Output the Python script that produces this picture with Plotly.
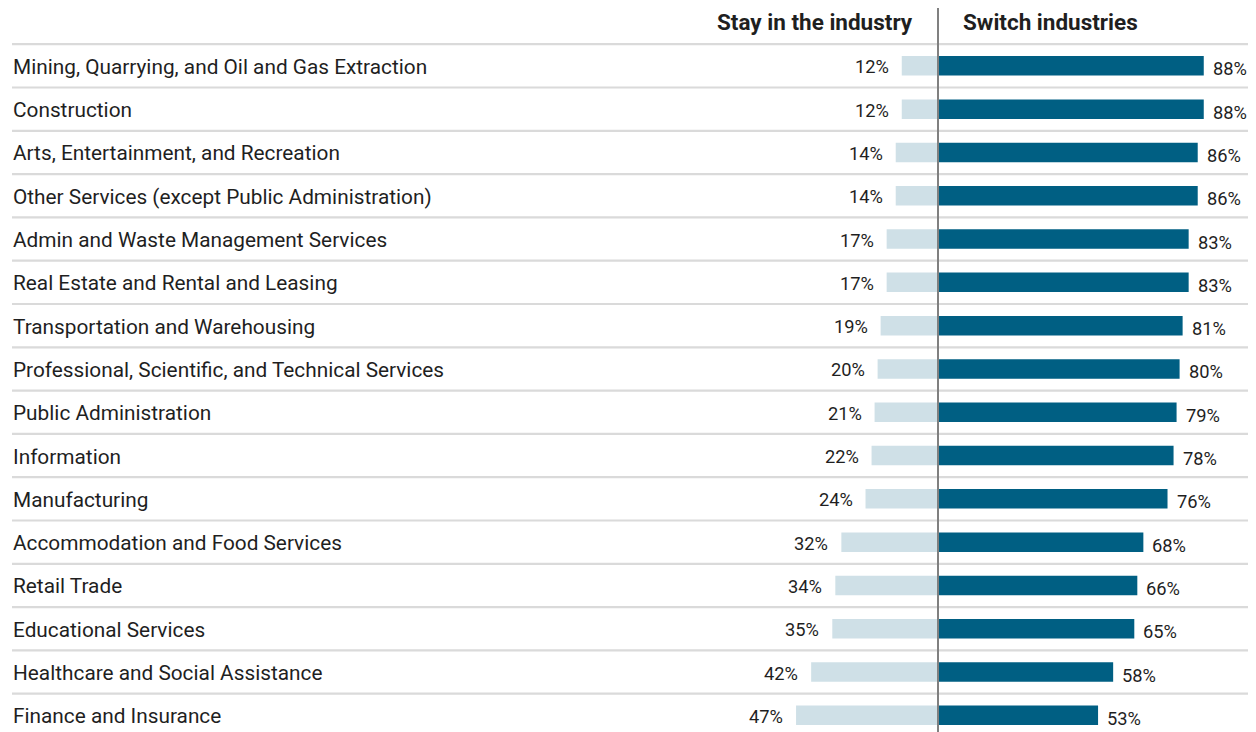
import plotly.graph_objects as go

categories = [
    "Mining, Quarrying, and Oil and Gas Extraction",
    "Construction",
    "Arts, Entertainment, and Recreation",
    "Other Services (except Public Administration)",
    "Admin and Waste Management Services",
    "Real Estate and Rental and Leasing",
    "Transportation and Warehousing",
    "Professional, Scientific, and Technical Services",
    "Public Administration",
    "Information",
    "Manufacturing",
    "Accommodation and Food Services",
    "Retail Trade",
    "Educational Services",
    "Healthcare and Social Assistance",
    "Finance and Insurance",
]
stay = [12, 12, 14, 14, 17, 17, 19, 20, 21, 22, 24, 32, 34, 35, 42, 47]
switch = [88, 88, 86, 86, 83, 83, 81, 80, 79, 78, 76, 68, 66, 65, 58, 53]
headers = ["Stay in the industry", "Switch industries"]

# page has an 8px body margin; figure coords = page coords - 8
OFF = 8
W, H = 1256 - OFF, 732 - OFF
CENTER_PX = 938 - OFF
PX_PER_PCT = 3.02
ROW_PX = 43.3
FIRST_SEP_PX = 44.2 - OFF
LABEL_X = 12 - OFF

xmin = -CENTER_PX / PX_PER_PCT
xmax = (W - CENTER_PX) / PX_PER_PCT
ytop = -(FIRST_SEP_PX / ROW_PX) - 0.5
ybot = ytop + H / ROW_PX

rows = list(range(len(categories)))

LIGHT = "#cfe0e7"
DARK = "#005f83"
TEXT = "#1f1f1f"
FONT = "Roboto"

fig = go.Figure()
fig.add_trace(go.Bar(
    y=rows, x=[-v for v in stay], orientation="h",
    marker=dict(color=LIGHT, line=dict(width=0)), width=0.45,
    hoverinfo="skip", showlegend=False,
))
fig.add_trace(go.Bar(
    y=rows, x=switch, orientation="h",
    marker=dict(color=DARK, line=dict(width=0)), width=0.45,
    hoverinfo="skip", showlegend=False,
))

annotations = []
for i, (c, s, w) in enumerate(zip(categories, stay, switch)):
    annotations.append(dict(
        x=LABEL_X / W, xref="paper", y=i, yref="y", text=c, showarrow=False,
        xanchor="left", yanchor="middle", xshift=-1, yshift=-1,
        font=dict(family=FONT, size=20.8, color=TEXT),
    ))
    annotations.append(dict(
        x=-s, xref="x", y=i, yref="y", text=f"{s}%", showarrow=False,
        xanchor="right", yanchor="middle", xshift=-11, yshift=-1,
        font=dict(family=FONT, size=18.3, color=TEXT),
    ))
    annotations.append(dict(
        x=w, xref="x", y=i, yref="y", text=f"{w}%", showarrow=False,
        xanchor="left", yanchor="middle", xshift=7, yshift=-3,
        font=dict(family=FONT, size=18.3, color=TEXT),
    ))

annotations.append(dict(
    x=0, xref="x", y=ytop, yref="y", text=f"<b>{headers[0]}</b>", showarrow=False,
    xanchor="right", yanchor="middle", xshift=-23, yshift=-14,
    font=dict(family=FONT, size=22.5, color=TEXT),
))
annotations.append(dict(
    x=0, xref="x", y=ytop, yref="y", text=f"<b>{headers[1]}</b>", showarrow=False,
    xanchor="left", yanchor="middle", xshift=23, yshift=-14,
    font=dict(family=FONT, size=22.5, color=TEXT),
))

shapes = []
for k in range(len(categories) + 1):
    shapes.append(dict(
        type="line", xref="paper", yref="y", x0=LABEL_X / W, x1=1, y0=k - 0.5, y1=k - 0.5,
        line=dict(color="#dadada", width=2.2), layer="below",
    ))
shapes.append(dict(
    type="line", xref="x", yref="paper", x0=0, x1=0, y0=0, y1=1,
    line=dict(color="#808080", width=2), layer="above",
))

fig.update_layout(
    width=W, height=H,
    margin=dict(l=0, r=0, t=0, b=0, pad=0),
    paper_bgcolor="white", plot_bgcolor="white",
    barmode="overlay",
    xaxis=dict(range=[xmin, xmax], visible=False, fixedrange=True),
    yaxis=dict(range=[ybot, ytop], visible=False, fixedrange=True),
    annotations=annotations, shapes=shapes,
    hovermode=False,
)

fig.write_html("out.html", config={"displayModeBar": False})
